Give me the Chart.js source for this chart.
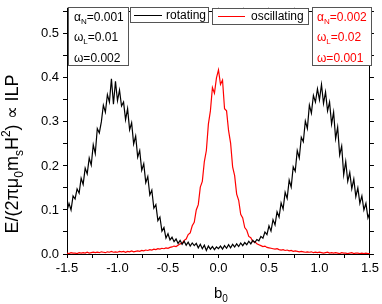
<!DOCTYPE html>
<html>
<head>
<meta charset="utf-8">
<script src="https://cdn.jsdelivr.net/npm/chart.js@4.4.1/dist/chart.umd.min.js"></script>
<style>
  body { margin: 0; background: #fff; }
  #wrap { width: 382px; height: 304px; }
</style>
</head>
<body>
<div id="wrap"><canvas id="myChart"></canvas></div>
<script>
// b0 grid: -1.5 .. 1.5, step 0.02
var bStart = -1.5, bStep = 0.02;

var rotating = [
  0.098, 0.115, 0.100, 0.132, 0.125, 0.148, 0.138, 0.172, 0.158, 0.195,
  0.182, 0.218, 0.202, 0.248, 0.228, 0.285, 0.275, 0.300, 0.338, 0.322,
  0.362, 0.345, 0.398, 0.340, 0.392, 0.348, 0.372, 0.336, 0.345, 0.305,
  0.330, 0.282, 0.298, 0.250, 0.268, 0.220, 0.235, 0.190, 0.205, 0.162,
  0.176, 0.134, 0.145, 0.104, 0.112, 0.076, 0.084, 0.052, 0.060, 0.036,
  0.046, 0.032, 0.038, 0.028, 0.034, 0.024, 0.031, 0.022, 0.029, 0.020,
  0.027, 0.018, 0.025, 0.019, 0.024, 0.014, 0.022, 0.012, 0.020, 0.008,
  0.018, 0.011, 0.017, 0.010, 0.016, 0.012, 0.018, 0.011, 0.019, 0.013,
  0.021, 0.014, 0.022, 0.016, 0.023, 0.017, 0.025, 0.019, 0.026, 0.021,
  0.029, 0.023, 0.031, 0.026, 0.033, 0.030, 0.040, 0.036, 0.050, 0.044,
  0.064, 0.052, 0.078, 0.066, 0.096, 0.084, 0.116, 0.102, 0.140, 0.126,
  0.168, 0.152, 0.198, 0.188, 0.235, 0.218, 0.265, 0.255, 0.302, 0.285,
  0.338, 0.320, 0.360, 0.345, 0.375, 0.350, 0.385, 0.342, 0.368, 0.325,
  0.345, 0.295, 0.322, 0.262, 0.288, 0.225, 0.245, 0.180, 0.210, 0.165,
  0.185, 0.148, 0.170, 0.130, 0.150, 0.115, 0.132, 0.100, 0.115, 0.082,
  0.095
];

var oscillating = [
  0.002, 0.001, 0.003, 0.002, 0.002, 0.001, 0.003, 0.002, 0.003, 0.002,
  0.004, 0.002, 0.003, 0.004, 0.003, 0.004, 0.003, 0.005, 0.004, 0.003,
  0.005, 0.004, 0.006, 0.004, 0.005, 0.004, 0.006, 0.005, 0.006, 0.004,
  0.006, 0.005, 0.007, 0.005, 0.006, 0.007, 0.006, 0.008, 0.007, 0.009,
  0.008, 0.010, 0.009, 0.011, 0.010, 0.012, 0.011, 0.013, 0.012, 0.014,
  0.013, 0.015, 0.016, 0.018, 0.017, 0.020, 0.023, 0.024, 0.031, 0.034,
  0.044, 0.048, 0.064, 0.072, 0.100, 0.112, 0.152, 0.165, 0.210, 0.235,
  0.295, 0.325, 0.378, 0.365, 0.400, 0.418, 0.385, 0.395, 0.330, 0.325,
  0.280, 0.252, 0.198, 0.178, 0.136, 0.122, 0.090, 0.082, 0.060, 0.054,
  0.040, 0.037, 0.028, 0.028, 0.023, 0.021, 0.019, 0.017, 0.018, 0.015,
  0.014, 0.013, 0.012, 0.011, 0.012, 0.010, 0.009, 0.010, 0.008, 0.009,
  0.007, 0.008, 0.006, 0.007, 0.006, 0.005, 0.006, 0.005, 0.004, 0.005,
  0.004, 0.005, 0.003, 0.004, 0.003, 0.004, 0.003, 0.002, 0.003, 0.004,
  0.002, 0.003, 0.002, 0.003, 0.002, 0.001, 0.003, 0.002, 0.002, 0.001,
  0.002, 0.003, 0.001, 0.002, 0.002, 0.001, 0.002, 0.001, 0.002, 0.001,
  0.001
];

var xTickLabels = ['-1.5', '-1.0', '-0.5', '0.0', '0.5', '1.0', '1.5'];
var yTickLabels = ['0.0', '0.1', '0.2', '0.3', '0.4', '0.5'];
var seriesNames = ['rotating', 'oscillating'];
var paramsRot = [['\u03b1', 'N', '=0.001'], ['\u03c9', 'L', '=0.01'], ['\u03c9', '', '=0.002']];
var paramsOsc = [['\u03b1', 'N', '=0.002'], ['\u03c9', 'L', '=0.02'], ['\u03c9', '', '=0.001']];

function toPoints(arr) {
  var pts = [];
  for (var i = 0; i < arr.length; i++) {
    pts.push({ x: bStart + bStep * i, y: arr[i] });
  }
  return pts;
}

var FONT = '"Liberation Sans", Arial, sans-serif';

function xLabel(v) {
  var s = (Math.abs(v) < 1e-9 ? 0 : v).toFixed(1);
  return xTickLabels.indexOf(s) >= 0 ? s : '';
}
function yLabel(v) {
  var s = v.toFixed(1);
  return (Math.abs(v * 10 - Math.round(v * 10)) < 1e-6 && yTickLabels.indexOf(s) >= 0) ? s : '';
}

// draws pieces [text, mode] along a baseline; mode 0 normal, 1 sub, 2 sup
function drawPieces(ctx, pieces, x, y, size, measureOnly) {
  var w = 0;
  for (var i = 0; i < pieces.length; i++) {
    var p = pieces[i];
    var fs = p[1] ? Math.round(size * 0.66) : size;
    var dy = p[1] == 1 ? size * 0.28 : (p[1] == 2 ? -size * 0.42 : 0);
    ctx.font = fs + 'px ' + FONT;
    if (!measureOnly) ctx.fillText(p[0], x + w, y + dy);
    w += ctx.measureText(p[0]).width;
  }
  return w;
}

function box(ctx, x1, y1, x2, y2) {
  ctx.fillStyle = '#fff';
  ctx.fillRect(x1, y1, x2 - x1, y2 - y1);
  ctx.strokeStyle = '#555';
  ctx.lineWidth = 1;
  ctx.strokeRect(x1 + 0.5, y1 + 0.5, x2 - x1, y2 - y1);
}

var decorations = {
  id: 'decorations',
  afterDraw: function (chart) {
    var ctx = chart.ctx;
    ctx.save();
    ctx.textAlign = 'left';
    ctx.textBaseline = 'alphabetic';

    // y title
    var yt = [['E/(2\u03c0\u03bc', 0], ['0', 1], ['m', 0], ['s', 1], ['H', 0], ['2', 2], [') \u221d ILP', 0]];
    ctx.fillStyle = '#000';
    var w = drawPieces(ctx, yt, 0, 0, 18, true);
    ctx.translate(18, 154);
    ctx.rotate(-Math.PI / 2);
    drawPieces(ctx, yt, -w / 2, 0, 18, false);
    ctx.setTransform(1, 0, 0, 1, 0, 0);

    // x title
    drawPieces(ctx, [['b', 0], ['0', 1]], 214, 298, 15, false);

    // parameter boxes
    box(ctx, 68, 7, 128, 65);
    box(ctx, 312, 7, 371, 65);
    var rows = [21, 41, 62];
    for (var i = 0; i < 3; i++) {
      ctx.fillStyle = '#000';
      drawPieces(ctx, [[paramsRot[i][0], 0], [paramsRot[i][1], 1], [paramsRot[i][2], 0]], 74, rows[i], 12, false);
      ctx.fillStyle = '#ff0000';
      drawPieces(ctx, [[paramsOsc[i][0], 0], [paramsOsc[i][1], 1], [paramsOsc[i][2], 0]], 317, rows[i], 12, false);
    }

    // legend boxes
    box(ctx, 130, 7, 208, 22);
    box(ctx, 212, 8, 308, 24);
    ctx.lineWidth = 1;
    ctx.strokeStyle = '#000';
    ctx.beginPath(); ctx.moveTo(134, 15.5); ctx.lineTo(162, 15.5); ctx.stroke();
    ctx.strokeStyle = '#ff0000';
    ctx.beginPath(); ctx.moveTo(218, 16.5); ctx.lineTo(245, 16.5); ctx.stroke();
    ctx.fillStyle = '#000';
    ctx.font = '12px ' + FONT;
    ctx.fillText(seriesNames[0], 166, 19);
    ctx.fillText(seriesNames[1], 251, 20);
    ctx.restore();
  }
};

var axisCommon = {
  grid: { drawOnChartArea: false, drawTicks: true, tickLength: 4, color: '#000' },
  border: { display: true, color: '#000', width: 1 }
};

var ctx = document.getElementById('myChart').getContext('2d');
var chart = new Chart(ctx, {
  type: 'line',
  data: {
    datasets: [{
      label: seriesNames[0],
      data: toPoints(rotating),
      borderColor: '#000000',
      borderWidth: 1.2,
      pointRadius: 0,
      tension: 0
    }, {
      label: seriesNames[1],
      data: toPoints(oscillating),
      borderColor: '#ff0000',
      borderWidth: 1.2,
      pointRadius: 0,
      tension: 0
    }]
  },
  options: {
    responsive: true,
    maintainAspectRatio: false,
    animation: false,
    events: [],
    layout: { padding: 0 },
    plugins: { legend: { display: false }, tooltip: { enabled: false } },
    scales: {
      x: Object.assign({}, axisCommon, {
        type: 'linear', position: 'bottom', min: -1.5, max: 1.5,
        ticks: { stepSize: 0.25, autoSkip: false, maxRotation: 0, padding: 3, color: '#000',
                 font: { family: FONT, size: 13 }, callback: xLabel },
        afterFit: function (s) { s.height = 50; }
      }),
      x2: Object.assign({}, axisCommon, {
        type: 'linear', position: 'top', min: -1.5, max: 1.5,
        ticks: { stepSize: 0.25, autoSkip: false, display: true, callback: function () { return ''; } },
        afterFit: function (s) { s.height = 5; }
      }),
      y: Object.assign({}, axisCommon, {
        type: 'linear', position: 'left', min: 0, max: 0.55,
        ticks: { stepSize: 0.05, autoSkip: false, padding: 4, color: '#000',
                 font: { family: FONT, size: 13 }, callback: yLabel },
        afterFit: function (s) { s.width = 67; }
      }),
      y2: Object.assign({}, axisCommon, {
        type: 'linear', position: 'right', min: 0, max: 0.55,
        ticks: { stepSize: 0.05, autoSkip: false, callback: function () { return ''; } },
        afterFit: function (s) { s.width = 9; }
      })
    }
  },
  plugins: [decorations]
});
</script>
</body>
</html>
